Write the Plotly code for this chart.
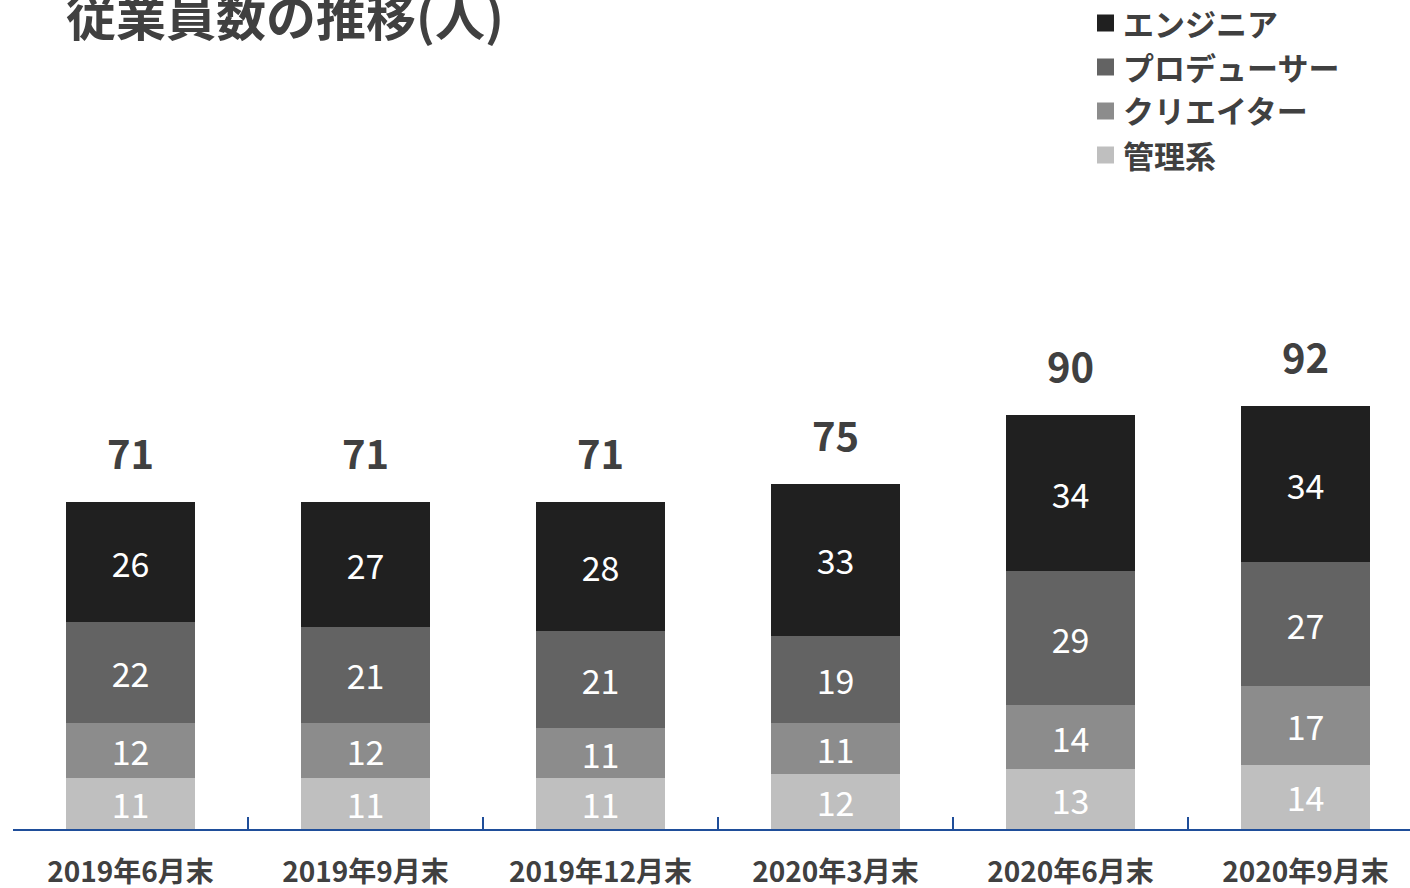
import plotly.graph_objects as go

# ---- data ----
categories = ["2019年6月末", "2019年9月末", "2019年12月末", "2020年3月末", "2020年6月末", "2020年9月末"]
series_names = ["管理系", "クリエイター", "プロデューサー", "エンジニア"]  # bottom -> top
admin = [11, 11, 11, 12, 13, 14]
creator = [12, 12, 11, 11, 14, 17]
producer = [22, 21, 21, 19, 29, 27]
engineer = [26, 27, 28, 33, 34, 34]
totals = [71, 71, 71, 75, 90, 92]
title_text = "従業員数の推移(人)"

# ---- style ----
FONT = "Noto Sans CJK JP"
TEXT_GREY = "#404040"
colors = ["#bfbfbf", "#8c8c8c", "#636363", "#202020"]
AXIS_BLUE = "#1f4e9a"

W, H = 1410, 888
ML = 13
MR = 0
MT = 200
MB = H - 829
PW, PH = W - ML - MR, H - MT - MB
PX_PER_UNIT = 4.6


def px_x(px):
    # screen pixel -> paper fraction
    return (px - ML) / PW


def px_y(py):
    return (H - MB - py) / PH


fig = go.Figure()
values = [admin, creator, producer, engineer]
for name, vals, col in zip(series_names, values, colors):
    fig.add_trace(go.Bar(
        x=categories, y=vals, name=name,
        marker=dict(color=col, line=dict(width=0)),
        text=[str(v) for v in vals],
        textposition="inside",
        insidetextanchor="middle",
        constraintext="none",
        textangle=0,
        textfont=dict(family=FONT, size=34, color="white", weight="normal"),
        showlegend=False,
        hoverinfo="skip",
    ))

annotations = []
for c, t in zip(categories, totals):
    annotations.append(dict(
        x=c, y=t, xref="x", yref="y", text=str(t), showarrow=False,
        yanchor="middle", yshift=50,
        font=dict(family=FONT, size=40, color=TEXT_GREY, weight="bold"),
    ))

# custom legend (top -> bottom)
legend_centers = [23, 67, 111, 155]
shapes = []
for i, (name, col) in enumerate(zip(series_names[::-1], colors[::-1])):
    cy = legend_centers[i]
    shapes.append(dict(
        type="rect", xref="paper", yref="paper",
        x0=px_x(1097), x1=px_x(1114), y0=px_y(cy + 8.5), y1=px_y(cy - 8.5),
        fillcolor=col, line=dict(width=0),
    ))
    annotations.append(dict(
        x=px_x(1121), y=px_y(cy - 1), xref="paper", yref="paper",
        text=name, showarrow=False, xanchor="left", yanchor="middle",
        font=dict(family=FONT, size=31, color=TEXT_GREY, weight="bold"),
    ))

fig.update_layout(
    width=W, height=H,
    margin=dict(l=ML, r=MR, t=MT, b=MB, autoexpand=False),
    barmode="stack",
    bargap=0.447,
    plot_bgcolor="white", paper_bgcolor="white",
    title=dict(
        text=title_text, x=66 / W, xanchor="left", y=1 - 18 / H, yanchor="middle",
        font=dict(family=FONT, size=50, color=TEXT_GREY, weight="bold"),
    ),
    annotations=annotations,
    shapes=shapes,
    xaxis=dict(
        range=[-0.5, -0.5 + PW / 235.0],
        showline=True, linecolor=AXIS_BLUE, linewidth=2,
        ticks="inside", tickson="boundaries", ticklen=12, tickwidth=2, tickcolor=AXIS_BLUE,
        showgrid=False, zeroline=False,
        tickfont=dict(family=FONT, size=28, color=TEXT_GREY, weight="bold"),
        ticklabelstandoff=17,
        automargin=False,
        fixedrange=True,
    ),
    yaxis=dict(
        range=[0, PH / PX_PER_UNIT], visible=False, fixedrange=True,
    ),
    uniformtext=dict(minsize=34, mode="show"),
)

fig.write_html(
    "out.html",
    config={"displayModeBar": False},
    post_script="document.body.style.margin='0';document.body.style.overflow='hidden';",
)
